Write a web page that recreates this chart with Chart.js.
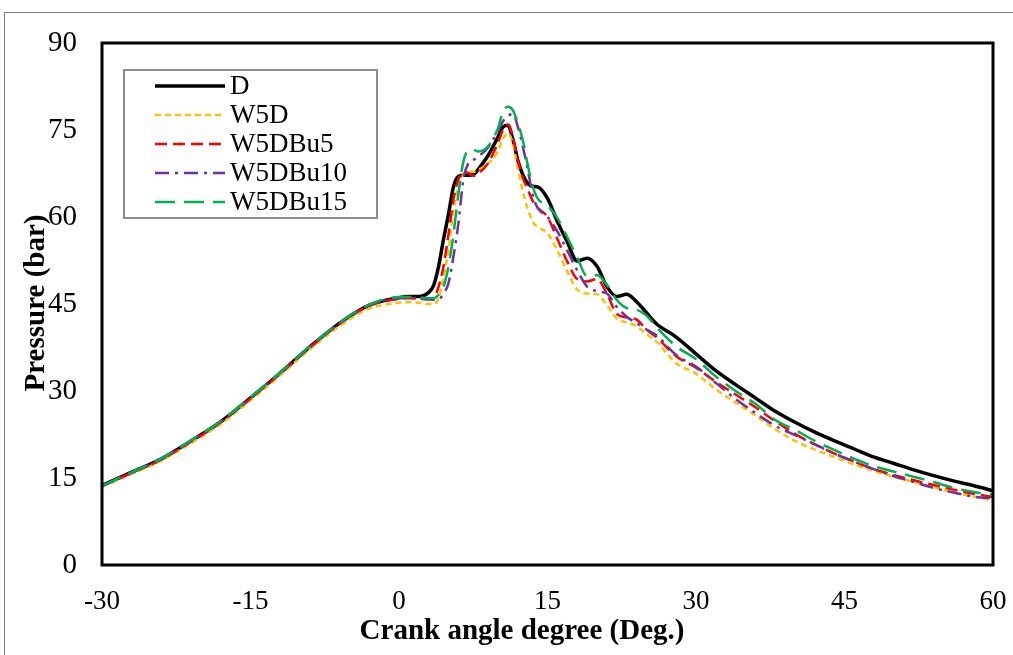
<!DOCTYPE html>
<html>
<head>
<meta charset="utf-8">
<script src="https://cdn.jsdelivr.net/npm/chart.js@4.4.1/dist/chart.umd.min.js"></script>
<style>
  html, body { margin: 0; padding: 0; background: #fff; }
  #wrap { width: 1013px; height: 655px; }
</style>
</head>
<body>
<div id="wrap"><canvas id="pressureChart"></canvas></div>
<script>
// crank angle (deg) shared by all series
var angles = [-30, -27, -24, -21, -18, -15, -12, -9, -6, -3, 0,
  1, 2, 3, 3.5, 4, 4.5, 5, 5.5, 6, 6.5, 7, 7.5, 8, 9, 10, 10.5, 11, 11.5,
  12, 12.5, 13, 13.5, 14, 15, 16, 17, 18, 19, 20, 21, 22, 23, 24, 25, 26,
  28, 30, 32, 34, 36, 38, 40, 42, 44, 46, 48, 50, 52, 54, 56, 58, 60];

var pD = [13.7, 16.0, 18.3, 21.4, 24.7, 28.8, 33.1, 37.6, 41.7, 44.8, 46.1,
  46.3, 46.3, 47.0, 48.2, 51.5, 56.2, 60.5, 65.2, 67.0, 67.2, 67.2, 67.3, 68.2, 70.6, 73.8, 75.5, 75.8, 73.4,
  69.8, 67.3, 65.8, 65.3, 65.2, 63.2, 59.2, 55.7, 52.4, 52.9, 51.5, 48.0, 46.3, 46.7, 45.4, 43.5, 41.6,
  39.3, 36.4, 33.5, 31.1, 28.8, 26.5, 24.6, 22.9, 21.4, 20.0, 18.6, 17.5, 16.4, 15.4, 14.5, 13.7, 12.8];

var pW5D = [13.5, 15.7, 18.0, 21.0, 24.3, 28.4, 32.7, 37.2, 41.2, 44.2, 45.2,
  45.3, 45.2, 45.0, 45.0, 46.0, 49.7, 54.3, 61.0, 65.2, 67.3, 67.8, 67.8, 68.1, 69.2, 71.3, 73.5, 74.4, 72.7,
  68.5, 64.5, 61.4, 59.2, 58.3, 57.2, 54.2, 50.6, 47.5, 46.8, 46.7, 44.8, 42.5, 41.8, 41.2, 39.8, 38.5,
  34.8, 33.0, 30.3, 28.0, 25.8, 23.4, 21.4, 19.9, 18.6, 17.3, 16.2, 15.2, 14.3, 13.4, 12.5, 11.8, 11.1];

var pW5DBu5 = [13.6, 15.9, 18.2, 21.3, 24.6, 28.7, 33.0, 37.5, 41.6, 44.7, 45.9,
  46.0, 46.0, 45.8, 46.0, 48.0, 51.5, 57.0, 63.0, 66.5, 67.8, 67.6, 67.1, 67.5, 69.3, 72.8, 75.0, 75.9, 73.8,
  69.8, 66.8, 64.8, 62.8, 61.6, 60.0, 56.2, 52.3, 49.3, 48.9, 49.3, 46.8, 43.3, 42.7, 42.3, 40.6, 39.3,
  36.0, 34.0, 31.6, 29.4, 27.2, 24.8, 22.6, 20.8, 19.2, 17.8, 16.5, 15.5, 14.6, 13.8, 13.0, 12.3, 11.7];

var pW5DBu10 = [13.6, 15.9, 18.3, 21.4, 24.7, 28.8, 33.1, 37.6, 41.7, 44.8, 46.0,
  46.0, 45.9, 45.8, 45.7, 45.8, 46.8, 48.6, 53.2, 58.9, 66.5, 69.2, 69.8, 70.4, 72.0, 74.8, 76.5, 77.4, 77.8,
  75.6, 72.2, 68.3, 63.8, 61.6, 60.0, 57.5, 54.2, 50.8, 48.0, 47.2, 46.8, 44.5, 42.8, 41.7, 40.6, 39.6,
  36.2, 34.2, 31.4, 28.6, 26.2, 24.0, 22.4, 20.8, 19.2, 17.8, 16.5, 15.3, 14.3, 13.3, 12.5, 11.8, 11.5];

var pW5DBu15 = [13.7, 16.0, 18.4, 21.5, 24.8, 28.9, 33.2, 37.7, 41.8, 44.9, 46.2,
  46.2, 46.1, 46.0, 46.0, 46.6, 48.0, 51.5, 57.0, 64.0, 69.5, 71.5, 71.6, 71.3, 72.2, 75.3, 78.2, 79.0, 78.4,
  76.2, 73.3, 69.0, 65.3, 63.2, 62.0, 59.8, 56.5, 53.0, 49.8, 50.0, 48.3, 45.7, 44.3, 44.0, 43.0, 41.0,
  37.7, 35.5, 32.5, 30.0, 27.8, 25.0, 23.3, 21.4, 19.8, 18.3, 17.0, 16.1, 15.2, 14.3, 13.3, 12.6, 12.1];

var xTicks = [-30, -15, 0, 15, 30, 45, 60];
var yTicks = [0, 15, 30, 45, 60, 75, 90];

var serif = "'Liberation Serif', 'Times New Roman', serif";

function toPoints(values) {
  return values.map(function (v, i) {
    return { x: angles[i], y: v };
  });
}

// frame, outer border, axis titles and legend drawn on the canvas
var decorPlugin = {
  id: "decor",
  beforeDraw: function (chart) {
    var ctx = chart.ctx;
    ctx.save();
    ctx.strokeStyle = "#7f7f7f";
    ctx.lineWidth = 1;
    ctx.strokeRect(4.5, 12.5, 1030, 660);
    ctx.restore();
  },
  afterDraw: function (chart) {
    var ctx = chart.ctx;
    var a = chart.chartArea;
    ctx.save();
    ctx.strokeStyle = "#000";
    ctx.lineWidth = 3;
    ctx.strokeRect(a.left, a.top, a.right - a.left, a.bottom - a.top);

    ctx.fillStyle = "#000";
    ctx.font = "bold 29px " + serif;
    ctx.textAlign = "center";
    ctx.textBaseline = "middle";
    ctx.fillText("Crank angle degree (Deg.)", 522, 632);
    ctx.save();
    ctx.translate(37, 303);
    ctx.rotate(-Math.PI / 2);
    ctx.fillText("Pressure (bar)", 0, 0);
    ctx.restore();

    // legend box
    var bx = 124, by = 70, bw = 253, bh = 148;
    ctx.fillStyle = "#fff";
    ctx.fillRect(bx, by, bw, bh);
    ctx.strokeStyle = "#8c8c8c";
    ctx.lineWidth = 2;
    ctx.strokeRect(bx, by, bw, bh);
    ctx.font = "27px " + serif;
    ctx.textAlign = "left";
    chart.data.datasets.forEach(function (ds, i) {
      var y = by + 16 + i * 29;
      ctx.strokeStyle = ds.borderColor;
      ctx.lineWidth = ds.borderWidth;
      ctx.setLineDash(ds.borderDash || []);
      ctx.beginPath();
      ctx.moveTo(155, y);
      ctx.lineTo(225, y);
      ctx.stroke();
      ctx.setLineDash([]);
      ctx.fillStyle = "#000";
      ctx.fillText(ds.label, 230, y + 1);
    });
    ctx.restore();
  },
};

var ctx = document.getElementById("pressureChart").getContext("2d");
var pressureChart = new Chart(ctx, {
  type: "line",
  data: {
    datasets: [
      { label: "D", data: toPoints(pD), borderColor: "#000000", borderWidth: 3.5, order: 5 },
      { label: "W5D", data: toPoints(pW5D), borderColor: "#FFC000", borderWidth: 2.5, borderDash: [6, 4], order: 4 },
      { label: "W5DBu5", data: toPoints(pW5DBu5), borderColor: "#FF0000", borderWidth: 2.5, borderDash: [12, 6], order: 3 },
      { label: "W5DBu10", data: toPoints(pW5DBu10), borderColor: "#7030A0", borderWidth: 2.5, borderDash: [14, 6, 3, 6], order: 2 },
      { label: "W5DBu15", data: toPoints(pW5DBu15), borderColor: "#00B050", borderWidth: 2.5, borderDash: [20, 9], order: 1 },
    ],
  },
  options: {
    responsive: true,
    maintainAspectRatio: false,
    animation: false,
    layout: { padding: { left: 0, top: 43, right: 20, bottom: 0 } },
    elements: {
      point: { radius: 0 },
      line: { cubicInterpolationMode: "monotone", fill: false },
    },
    plugins: {
      legend: { display: false },
      tooltip: { enabled: false },
    },
    scales: {
      x: {
        type: "linear",
        min: -30,
        max: 60,
        afterFit: function (scale) {
          scale.height = 90;
          scale.paddingLeft = 0;
          scale.paddingRight = 0;
        },
        afterBuildTicks: function (scale) {
          scale.ticks = xTicks.map(function (v) { return { value: v }; });
        },
        grid: { display: false, drawTicks: false },
        border: { display: false },
        ticks: { color: "#000", font: { family: serif, size: 27 }, padding: 21, maxRotation: 0 },
      },
      y: {
        min: 0,
        max: 90,
        afterFit: function (scale) {
          scale.width = 102;
          scale.paddingTop = 0;
          scale.paddingBottom = 0;
        },
        afterBuildTicks: function (scale) {
          scale.ticks = yTicks.map(function (v) { return { value: v }; });
        },
        grid: { display: false, drawTicks: false },
        border: { display: false },
        ticks: { color: "#000", font: { family: serif, size: 29 }, padding: 25 },
      },
    },
  },
  plugins: [decorPlugin],
});
</script>
</body>
</html>
